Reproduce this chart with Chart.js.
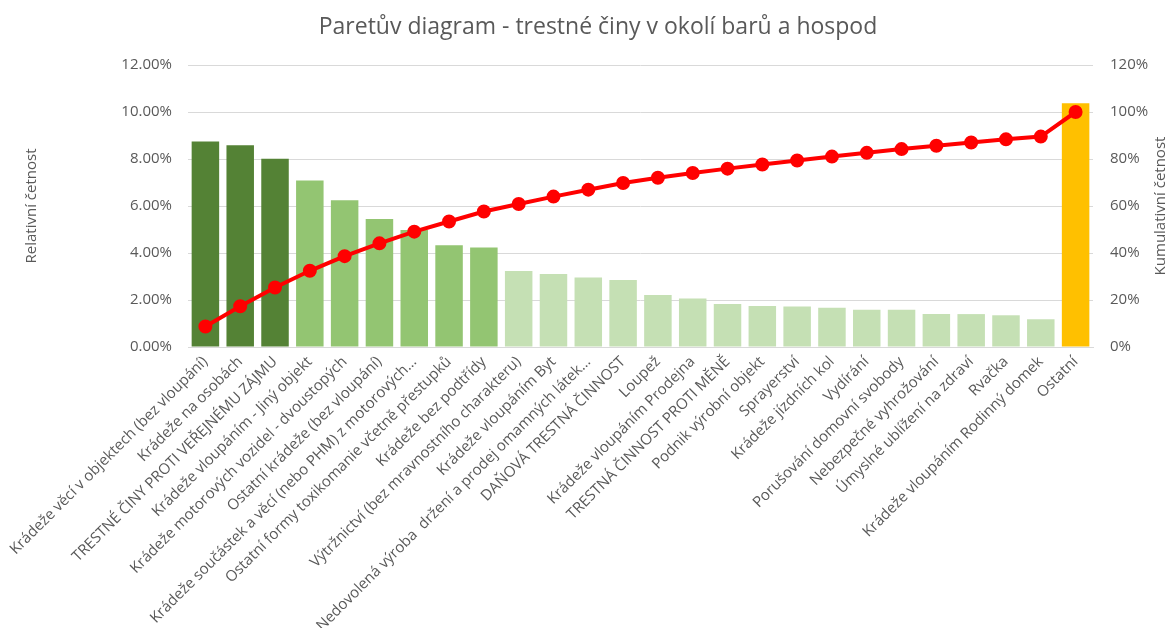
<!DOCTYPE html>
<html>
<head>
<meta charset="utf-8">
<script src="https://cdn.jsdelivr.net/npm/chart.js@4.4.1/dist/chart.umd.min.js"></script>
<style>
  html, body { margin: 0; padding: 0; background: #ffffff; }
  #wrap { width: 1172px; height: 628px; position: relative; }
</style>
</head>
<body>
<div id="wrap"><canvas id="c" width="1172" height="628"></canvas></div>
<script>
const chartTitle = "Paretův diagram - trestné činy v okolí barů a hospod";
const categories = [
  "Krádeže věcí v objektech (bez vloupání)",
  "Krádeže na osobách",
  "TRESTNÉ ČINY PROTI VEŘEJNÉMU ZÁJMU",
  "Krádeže vloupáním - Jiný objekt",
  "Krádeže motorových vozidel - dvoustopých",
  "Ostatní krádeže (bez vloupání)",
  "Krádeže součástek a věcí (nebo PHM) z motorových…",
  "Ostatní formy toxikomanie včetně přestupků",
  "Krádeže bez podtřídy",
  "Výtržnictví (bez mravnostního charakteru)",
  "Krádeže vloupáním Byt",
  "Nedovolená výroba  držení a prodej omamných látek…",
  "DAŇOVÁ TRESTNÁ ČINNOST",
  "Loupež",
  "Krádeže vloupáním Prodejna",
  "TRESTNÁ ČINNOST PROTI MĚNĚ",
  "Podnik výrobní objekt",
  "Sprayerství",
  "Krádeže jízdních kol",
  "Vydírání",
  "Porušování domovní svobody",
  "Nebezpečné vyhrožování",
  "Úmyslné ublížení na zdraví",
  "Rvačka",
  "Krádeže vloupáním Rodinný domek",
  "Ostatní"
];
const relativeFreq = [8.74, 8.58, 8.01, 7.09, 6.24, 5.45, 4.98, 4.33, 4.23, 3.23, 3.11, 2.96, 2.85,
  2.21, 2.06, 1.83, 1.74, 1.72, 1.67, 1.59, 1.59, 1.40, 1.40, 1.35, 1.18, 10.37];
const cumulativeFreq = [8.74, 17.32, 25.33, 32.42, 38.66, 44.11, 49.09, 53.42, 57.65, 60.88, 63.99,
  66.95, 69.80, 72.01, 74.07, 75.90, 77.64, 79.36, 81.03, 82.62, 84.21, 85.61, 87.01, 88.36, 89.54, 100];
const groups = ["A","A","A","B","B","B","B","B","B","C","C","C","C","C","C","C","C","C","C","C","C","C","C","C","C","O"];
const leftTicks = [0, 2, 4, 6, 8, 10, 12];
const rightTicks = [0, 20, 40, 60, 80, 100, 120];

const groupColors = { A: "#548235", B: "#93C572", C: "#C5E0B4", O: "#FFC000" };
const FONT = "'Open Sans', 'Noto Sans', sans-serif";
const TXT = "#595959";

const textPlugin = {
  id: "extraText",
  afterDraw(chart) {
    const ctx = chart.ctx;
    const area = chart.chartArea;
    ctx.save();
    ctx.font = "23px " + FONT;
    ctx.fillStyle = TXT;
    ctx.textAlign = "center";
    ctx.textBaseline = "middle";
    ctx.fillText(chartTitle, 598, 27);
    ctx.restore();

    ctx.save();
    ctx.translate(1161, (area.top + area.bottom) / 2);
    ctx.rotate(-Math.PI / 2);
    ctx.font = "15px " + FONT;
    ctx.fillStyle = TXT;
    ctx.textAlign = "center";
    ctx.textBaseline = "middle";
    ctx.fillText("Kumulativní četnost", 0, 0);
    ctx.restore();
  }
};

new Chart(document.getElementById("c"), {
  data: {
    labels: categories,
    datasets: [
      {
        type: "line",
        label: "Kumulativní četnost",
        data: cumulativeFreq,
        yAxisID: "y1",
        borderColor: "#FF0000",
        backgroundColor: "#FF0000",
        borderWidth: 4,
        pointRadius: 5,
        pointBackgroundColor: "#FF0000",
        pointBorderColor: "#FF0000",
        tension: 0,
        order: 0
      },
      {
        type: "bar",
        label: "Relativní četnost",
        data: relativeFreq,
        yAxisID: "y",
        backgroundColor: groups.map(g => groupColors[g]),
        categoryPercentage: 1.0,
        barPercentage: 0.79,
        order: 1
      }
    ]
  },
  options: {
    responsive: false,
    animation: false,
    layout: { padding: { left: 0, right: 0, top: 65, bottom: 0 } },
    plugins: {
      legend: { display: false },
      tooltip: { enabled: false },
      title: { display: false }
    },
    scales: {
      x: {
        grid: { display: false, drawTicks: false },
        border: { display: true, color: "#D9D9D9", width: 1 },
        ticks: {
          color: TXT,
          font: { family: FONT, size: 15 },
          autoSkip: false,
          minRotation: 45,
          maxRotation: 45,
          padding: 6
        },
        afterFit(scale) { scale.height = 281; }
      },
      y: {
        position: "left",
        min: 0,
        max: 12,
        afterBuildTicks(scale) { scale.ticks = leftTicks.map(v => ({ value: v })); },
        grid: { color: "#D9D9D9", drawTicks: false },
        border: { display: false },
        ticks: {
          color: TXT,
          font: { family: FONT, size: 15 },
          padding: 16,
          callback: v => v.toFixed(2) + "%"
        },
        title: {
          display: true,
          text: "Relativní četnost",
          color: TXT,
          font: { family: FONT, size: 15 },
          padding: { top: 23, bottom: 0 }
        },
        afterFit(scale) { scale.width = 188; }
      },
      y1: {
        position: "right",
        min: 0,
        max: 120,
        afterBuildTicks(scale) { scale.ticks = rightTicks.map(v => ({ value: v })); },
        grid: { display: false, drawTicks: false },
        border: { display: false },
        ticks: {
          color: TXT,
          font: { family: FONT, size: 15 },
          padding: 17,
          callback: v => v + "%"
        },
        afterFit(scale) { scale.width = 79; }
      }
    }
  },
  plugins: [textPlugin]
});
</script>
</body>
</html>
